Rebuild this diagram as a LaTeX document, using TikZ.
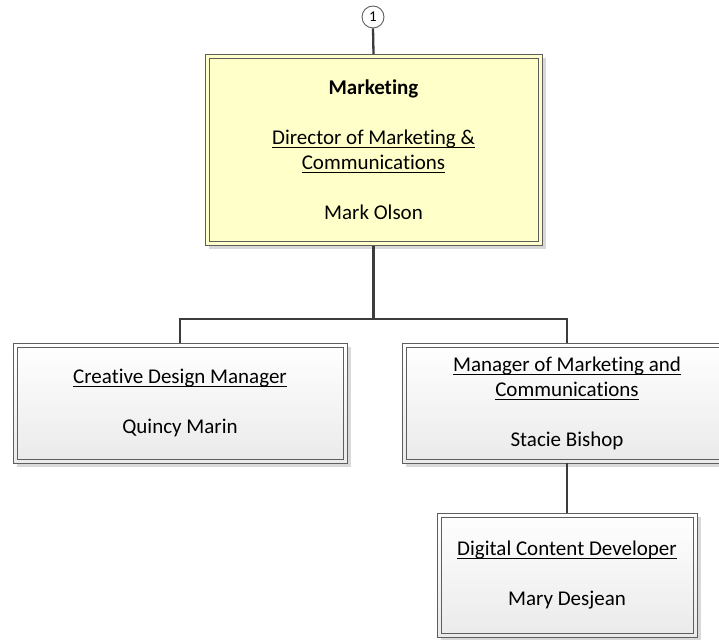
\documentclass[tikz,border=0pt]{standalone}
\usepackage{fontspec}
\setmainfont{Carlito}[Ligatures={NoCommon,NoRequired,NoContextual}]
\newcommand{\ulx}[1]{\setbox0\hbox{#1}\rlap{\rule[-3.7pt]{\wd0}{1.1pt}}\box0}
\usetikzlibrary{shadows}
\definecolor{boxline}{HTML}{5E5E5E}
\definecolor{conn}{HTML}{3C3C3C}
\definecolor{mktfill}{HTML}{FFFFC9}
\definecolor{boxbottom}{HTML}{EAEAEA}
\tikzset{
  orgbox/.style={draw=boxline, line width=0.9pt, align=center, inner sep=0pt,
    font=\fontsize{21}{25}\selectfont,
    drop shadow={shadow xshift=3.5pt, shadow yshift=-3.5pt, opacity=0.15, fill=black}},
  graybox/.style={orgbox, shading=axis, top color=white, bottom color=boxbottom},
  yellowbox/.style={orgbox, fill=mktfill},
  innerline/.style={draw=boxline, line width=0.9pt},
  connector/.style={draw=conn, line width=2.3pt},
  offpage/.style={circle, draw=boxline, line width=0.9pt, fill=white, minimum size=22pt, inner sep=0pt, font=\fontsize{15}{15}\selectfont}
}
\begin{document}
\begin{tikzpicture}[x=1pt,y=-1pt]
\useasboundingbox (0,0) rectangle (719,639);
% nodes
\node[yellowbox, minimum width=337pt, minimum height=191pt] (mkt) at (373.5,150)
  {\textbf{Marketing}\\[25pt]\ulx{Director of Marketing \&}\\\ulx{Communications}\\[25pt]Mark Olson};
\node[offpage] (c1) at (373,17) {1};
\node[graybox, minimum width=334pt, minimum height=120pt] (cdm) at (180,403)
  {\ulx{Creative Design Manager}\\[25pt]Quincy Marin};
\node[graybox, minimum width=330pt, minimum height=120pt] (mmc) at (567,403)
  {\ulx{Manager of Marketing and}\\\ulx{Communications}\\[25pt]Stacie Bishop};
\node[graybox, minimum width=260pt, minimum height=124pt] (dcd) at (567,575)
  {\ulx{Digital Content Developer}\\[25pt]Mary Desjean};
% inner borders
\foreach \n in {mkt,cdm,mmc,dcd}
  \draw[innerline] ([xshift=4.5pt,yshift=-4.5pt]\n.north west) rectangle ([xshift=-4.5pt,yshift=4.5pt]\n.south east);
% connectors
\coordinate (bar) at (373.5,319);
\draw[connector] (c1.south) -- (mkt.north);
\draw[connector] (mkt.south) -- (bar);
\draw[connector] (bar) -| (cdm.north);
\draw[connector] (bar) -| (mmc.north);
\draw[connector] (mmc.south) -- (dcd.north);
\end{tikzpicture}
\end{document}
